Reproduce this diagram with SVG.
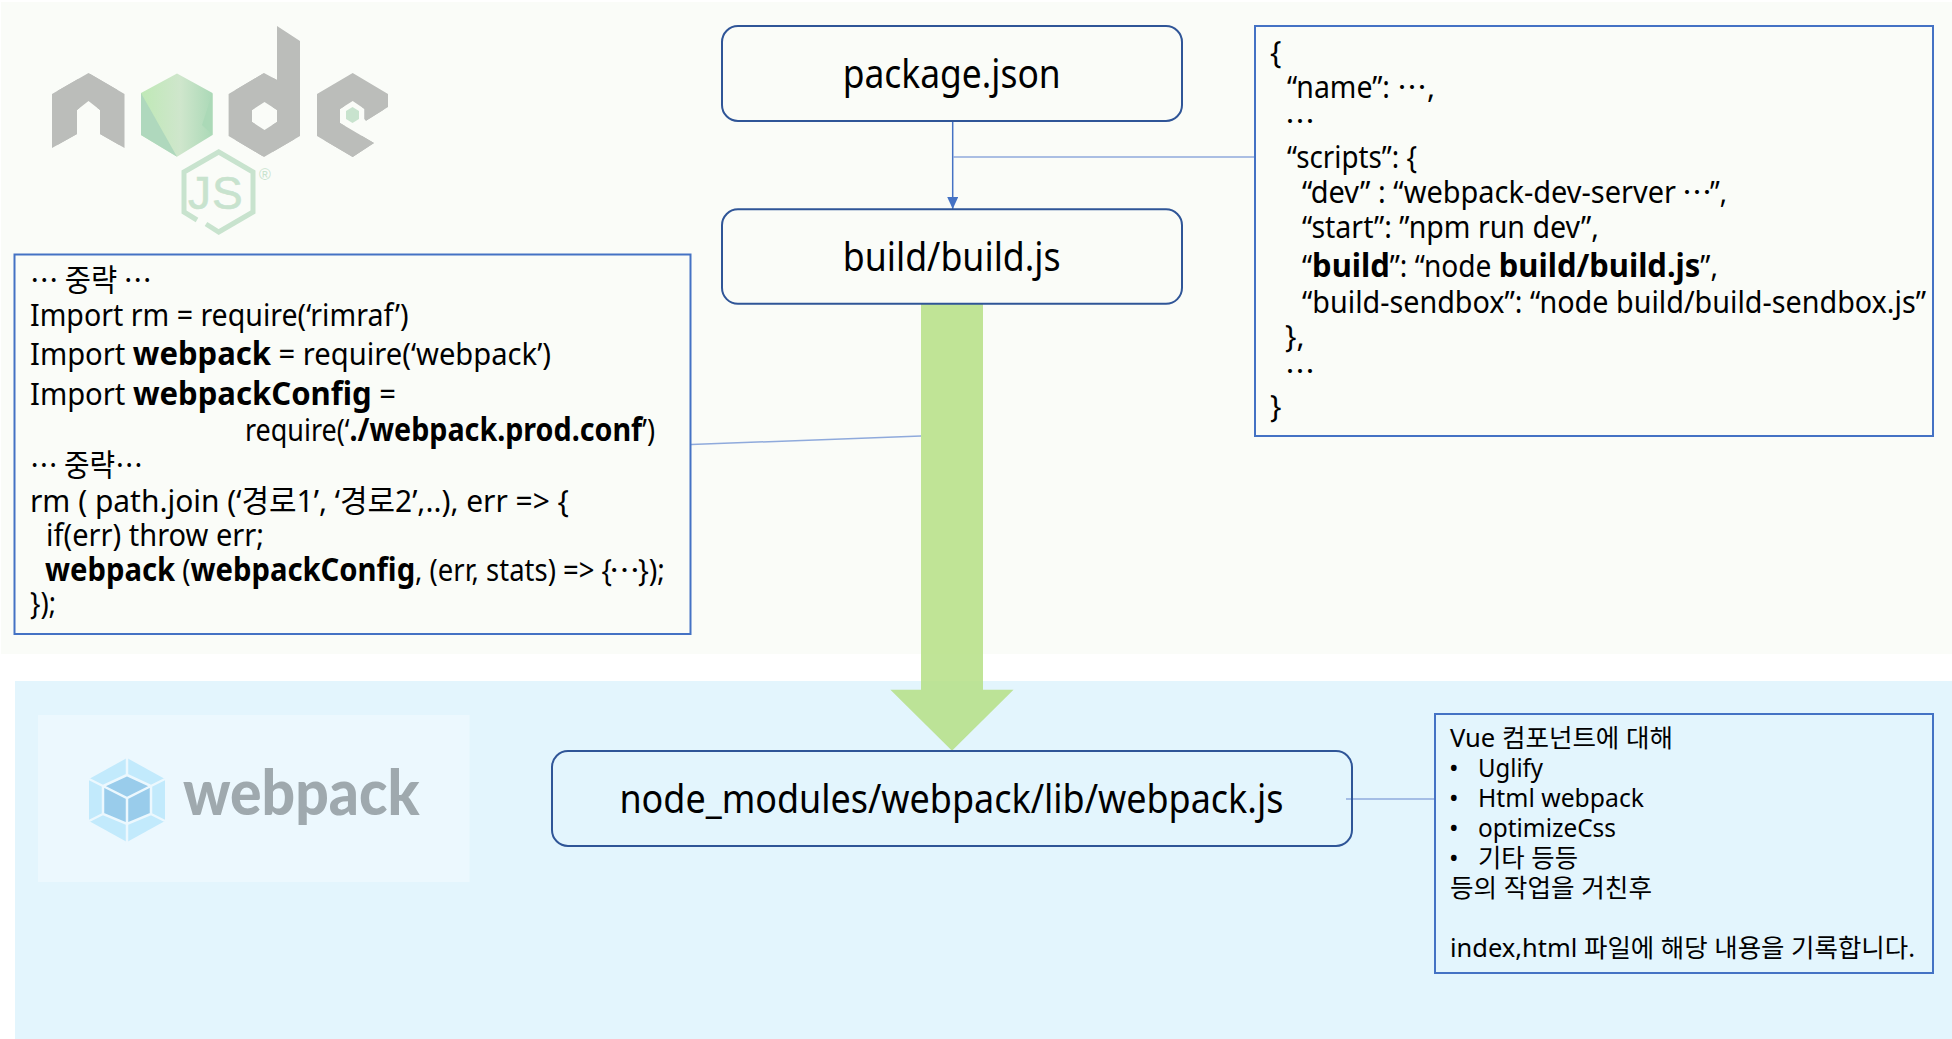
<svg xmlns="http://www.w3.org/2000/svg" width="1952" height="1039" viewBox="0 0 1952 1039">
<style>
text{font-family:"Noto Sans","Noto Sans CJK KR",sans-serif;fill:#000}
.k{font-family:"Noto Sans CJK KR","Noto Sans",sans-serif}
.lbl{font-size:40px}
.code{font-size:30px}
.left{font-size:31px}
.note{font-size:25.5px}
.b{font-weight:700;font-size:33px}
.rr{fill:none;stroke:#2F5597;stroke-width:2}
.sq{fill:none;stroke:#4472C4;stroke-width:2}
.lt{stroke:#8FAADC;stroke-width:1.5;fill:none}
.nl{font-family:"Inter","Liberation Sans",sans-serif;font-weight:900;font-size:138px;fill:#BBBDBA;stroke:#BBBDBA;stroke-width:34px}
.wl{stroke:#ECF8FE;stroke-width:2.5;fill:none}
</style>
<defs>
<marker id="ah" markerUnits="userSpaceOnUse" markerWidth="12" markerHeight="11" refX="12" refY="5.5" orient="auto"><path d="M0,0L12,5.5L0,11z" fill="#4472C4"/></marker>
<clipPath id="cn"><path d="M52,94L88.5,73L124.5,94V148L100,134V110L88.5,101L77,110V134L52,148Z"/></clipPath>
<clipPath id="cd"><path clip-rule="evenodd" d="M228.6,94L264,73L277,80V26L300,41V136L264,157L228.6,136ZM264.5,102L277,110V122L264.5,130L252,122V110Z"/></clipPath>
<clipPath id="ce"><path d="M317,94L352.7,73L388,94V107L366,120.7L364.5,119V109L352.7,101L340,109V123L374,143L352.7,157L317,136Z"/></clipPath>
<linearGradient id="gh" x1="0" x2="1" y1="0" y2="0"><stop offset="0" stop-color="#BFE9B6"/><stop offset=".55" stop-color="#CFE6CC"/><stop offset="1" stop-color="#ABD9B7"/></linearGradient>
</defs>

<g id="bg-node"><rect x="1" y="2" width="1951" height="652" fill="#FAFCF8"/></g>
<g id="bg-webpack"><rect x="15" y="681" width="1937" height="358" fill="#E3F5FD"/></g>

<g id="logo-node">
<text class="nl" x="52" y="148" textLength="72.5" lengthAdjust="spacingAndGlyphs" clip-path="url(#cn)">n</text>
<polygon points="141,93 177,73.5 212.5,93 212.5,135 177,156.7 141,135" fill="url(#gh)"/>
<polygon points="141,93 177,156.7 141,135" fill="#AFD8BD"/>
<polygon points="212.5,93 202,125 212.5,135" fill="#ABD9B7"/>
<text class="nl" x="228.6" y="157" textLength="71.4" lengthAdjust="spacingAndGlyphs" clip-path="url(#cd)" style="font-size:155px;stroke-width:38px">d</text>
<text class="nl" x="317" y="157" textLength="71" lengthAdjust="spacingAndGlyphs" clip-path="url(#ce)">e</text>
<polygon points="352.5,107 359,111 359,119 352.5,123 346,119 346,111" fill="#C8E3CE"/>
<path d="M206,224L218.7,232L253,212V172L218.7,152L184,172V212L197,220" fill="none" stroke="#C8E3CE" stroke-width="5"/>
<text x="188 212" y="209" stroke="#C8E3CE" stroke-width=".6" style="font-family:'Liberation Sans',sans-serif;font-size:46px;fill:#C8E3CE">JS</text>
<text x="259" y="180" style="font-family:'Liberation Sans',sans-serif;font-size:16px;fill:#C8E3CE">®</text>
</g>

<g id="logo-webpack">
<rect x="38" y="715" width="431.6" height="167" fill="#ECF8FE"/>
<polygon points="127,758 165,779 165,821 127,842 89,821 89,779" fill="#C2EAFC"/>
<polygon points="127,775 151,786 151,814 127,824 103,814 103,786" fill="#99CCEB"/>
<path class="wl" d="M127,758V775M165,779L151,786M165,821L151,814M127,842V824M89,821L103,814M89,779L103,786M127,775L151,786V814L127,824L103,814V786ZM103,786L127,798L151,786M127,798V824"/>
<text x="183" y="815" textLength="236.5" lengthAdjust="spacingAndGlyphs" style="font-family:'Lato',sans-serif;font-weight:900;font-size:62px;fill:#9FA9AE">webpack</text>
</g>

<g id="connectors">
<path d="M921,304H983V689.7H1013.5L952,750.7L890.4,689.7H921Z" fill="#B5DF85" fill-opacity=".85"/>
<line x1="952.7" y1="121" x2="952.7" y2="209" stroke="#4472C4" stroke-width="1.5" marker-end="url(#ah)"/>
<line class="lt" x1="953" y1="157" x2="1255" y2="157"/>
<line class="lt" x1="691" y1="444.5" x2="921" y2="436"/>
<line class="lt" x1="1346" y1="799" x2="1435" y2="799"/>
</g>

<g id="node-package-json">
<rect class="rr" x="722" y="26" width="460" height="95" rx="16"/>
<text class="lbl" x="842.7" y="88" textLength="218" lengthAdjust="spacingAndGlyphs">package.json</text>
</g>
<g id="node-build-js">
<rect class="rr" x="722" y="209.3" width="460" height="94.5" rx="16"/>
<text class="lbl" x="842.7" y="271" textLength="218" lengthAdjust="spacingAndGlyphs">build/build.js</text>
</g>
<g id="node-webpack-js">
<rect class="rr" x="552" y="751" width="800" height="95" rx="16"/>
<text class="lbl" x="619.4" y="813" textLength="664" lengthAdjust="spacingAndGlyphs">node_modules/webpack/lib/webpack.js</text>
</g>

<g id="node-package-content">
<rect class="sq" x="1255" y="26" width="678" height="410"/>
<text class="code" x="1270" y="63">{</text>
<text class="code" x="1287" y="98" textLength="103" lengthAdjust="spacingAndGlyphs">“name”:</text><text class="code k" x="1397" y="98">⋯</text><text class="code" x="1427" y="98">,</text>
<text class="code k" x="1285" y="132">⋯</text>
<text class="code" x="1287" y="168" textLength="130" lengthAdjust="spacingAndGlyphs">“scripts”: {</text>
<text class="code" x="1302" y="203" textLength="374" lengthAdjust="spacingAndGlyphs">“dev” : “webpack-dev-server</text><text class="code k" x="1682" y="203">⋯</text><text class="code" x="1710" y="203" textLength="17" lengthAdjust="spacingAndGlyphs">”,</text>
<text class="code" x="1302" y="238" textLength="297" lengthAdjust="spacingAndGlyphs">“start”: ”npm run dev”,</text>
<text class="code" x="1302" y="277" textLength="416" lengthAdjust="spacingAndGlyphs">“<tspan class="b">build</tspan>”: “node <tspan class="b">build/build.js</tspan>”,</text>
<text class="code" x="1302" y="313" textLength="624" lengthAdjust="spacingAndGlyphs">“build-sendbox”: “node build/build-sendbox.js”</text>
<text class="code" x="1285" y="347">},</text>
<text class="code k" x="1285" y="382">⋯</text>
<text class="code" x="1270" y="417">}</text>
</g>

<g id="node-build-content">
<rect class="sq" x="14.5" y="254.5" width="676" height="379.5"/>
<text class="left" x="30" y="291" textLength="122" lengthAdjust="spacingAndGlyphs"><tspan class="k">⋯ 중략 ⋯</tspan></text>
<text class="left" x="30" y="326" textLength="378.5" lengthAdjust="spacingAndGlyphs">Import rm = require(‘rimraf’)</text>
<text class="left" x="30" y="365" textLength="521" lengthAdjust="spacingAndGlyphs">Import <tspan class="b">webpack</tspan> = require(‘webpack’)</text>
<text class="left" x="30" y="405" textLength="366" lengthAdjust="spacingAndGlyphs">Import <tspan class="b">webpackConfig</tspan> =</text>
<text class="left" x="245" y="441" textLength="410" lengthAdjust="spacingAndGlyphs">require(‘<tspan class="b">./webpack.prod.conf</tspan>’)</text>
<text class="left" x="30" y="476" textLength="113" lengthAdjust="spacingAndGlyphs"><tspan class="k">⋯ 중략⋯</tspan></text>
<text class="left" x="30" y="512" textLength="539" lengthAdjust="spacingAndGlyphs">rm ( path.join (‘경로1’, ‘경로2’,..), err =&gt; {</text>
<text class="left" x="46" y="546" textLength="218" lengthAdjust="spacingAndGlyphs">if(err) throw err;</text>
<text class="left" x="45" y="581" textLength="567" lengthAdjust="spacingAndGlyphs"><tspan class="b">webpack</tspan> (<tspan class="b">webpackConfig</tspan>, (err, stats) =&gt; {</text><text class="left k" x="609" y="581">⋯</text><text class="left" x="638" y="581" textLength="27" lengthAdjust="spacingAndGlyphs">});</text>
<text class="left" x="30" y="614" textLength="26" lengthAdjust="spacingAndGlyphs">});</text>
</g>

<g id="node-webpack-content">
<rect class="sq" x="1435" y="714" width="498" height="259"/>
<text class="note" x="1450" y="747" textLength="223" lengthAdjust="spacingAndGlyphs">Vue 컴포넌트에 대해</text>
<text class="note" x="1449" y="777">•</text><text class="note" x="1478" y="777" textLength="65" lengthAdjust="spacingAndGlyphs">Uglify</text>
<text class="note" x="1449" y="807">•</text><text class="note" x="1478" y="807" textLength="166" lengthAdjust="spacingAndGlyphs">Html webpack</text>
<text class="note" x="1449" y="837">•</text><text class="note" x="1478" y="837" textLength="138" lengthAdjust="spacingAndGlyphs">optimizeCss</text>
<text class="note" x="1449" y="867">•</text><text class="note" x="1478" y="867" textLength="100" lengthAdjust="spacingAndGlyphs">기타 등등</text>
<text class="note" x="1450" y="897" textLength="202" lengthAdjust="spacingAndGlyphs">등의 작업을 거친후</text>
<text class="note" x="1450" y="957" textLength="465" lengthAdjust="spacingAndGlyphs">index,html 파일에 해당 내용을 기록합니다.</text>
</g>
</svg>
